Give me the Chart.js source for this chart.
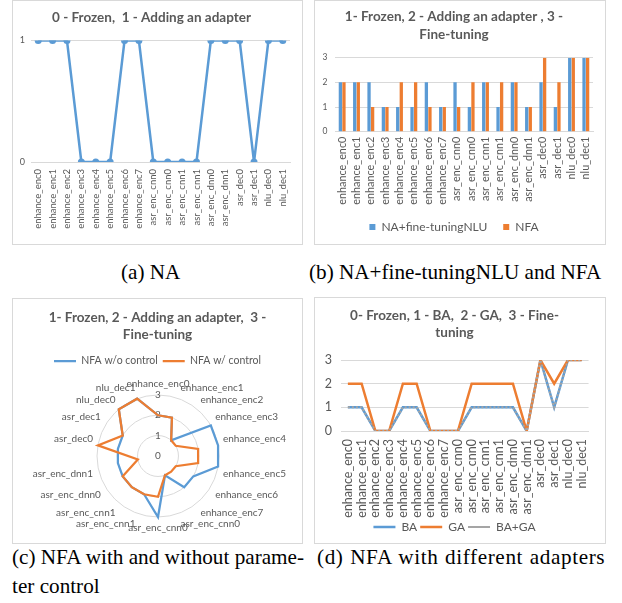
<!DOCTYPE html>
<html>
<head>
<meta charset="utf-8">
<script src="https://cdn.jsdelivr.net/npm/chart.js@4.4.0/dist/chart.umd.min.js"></script>
<style>
  body { margin: 0; background: #fff; width: 622px; height: 603px; position: relative; overflow: hidden; }
  .panel { position: absolute; border: 1px solid #d9d9d9; box-sizing: border-box; background: #fff; }
  .panel canvas { display: block; }
  .cap { position: absolute; font-family: 'Liberation Serif', 'Times New Roman', serif; font-size: 21.2px; line-height: 29px; color: #000; white-space: nowrap; }
  .just { text-align: justify; text-align-last: justify; }
</style>
</head>
<body>
<div class="panel" style="left:12px;top:0;width:291px;height:245px"><canvas id="chartA" width="289" height="243"></canvas></div>
<div class="panel" style="left:314px;top:0;width:292px;height:245px"><canvas id="chartB" width="290" height="243"></canvas></div>
<div class="panel" style="left:12px;top:298px;width:291px;height:246px"><canvas id="chartC" width="289" height="244"></canvas></div>
<div class="panel" style="left:314px;top:297px;width:292px;height:247px"><canvas id="chartD" width="290" height="245"></canvas></div>

<div class="cap" style="left:121px;top:258px">(a) NA</div>
<div class="cap" style="left:309px;top:258px">(b) NA+fine-tuningNLU and NFA</div>
<div class="cap just" style="left:12px;top:543px;width:290px">(c) NFA with and without parame-</div>
<div class="cap" style="left:12px;top:572px">ter control</div>
<div class="cap" style="left:317px;top:543px;letter-spacing:0.6px;word-spacing:0.8px">(d) NFA with different adapters</div>

<script>
// layer names, in the order used by all four panels
const layers = ['enhance_enc0', 'enhance_enc1', 'enhance_enc2', 'enhance_enc3', 'enhance_enc4',
  'enhance_enc5', 'enhance_enc6', 'enhance_enc7', 'asr_enc_cnn0', 'asr_enc_cnn0', 'asr_enc_cnn1',
  'asr_enc_cnn1', 'asr_enc_dnn0', 'asr_enc_dnn1', 'asr_dec0', 'asr_dec1', 'nlu_dec0', 'nlu_dec1'];

// (a) NA: 0 frozen, 1 adapter
const naValues = [1, 1, 1, 0, 0, 0, 1, 1, 0, 0, 0, 0, 1, 1, 1, 0, 1, 1];
const naTicks = [0, 1];

// (b) 1 frozen, 2 adapter, 3 fine-tuning
const naFtNluValues = [2, 2, 2, 1, 1, 1, 2, 1, 2, 1, 2, 1, 2, 1, 2, 1, 3, 3];
const nfaValues = [2, 2, 1, 1, 2, 2, 1, 1, 1, 2, 2, 2, 2, 1, 3, 2, 3, 3];
const stateTicks = [0, 1, 2, 3];

// (c) radar, same coding as (b)
const nfaNoControlValues = [2, 2, 1, 3, 3, 3, 2, 2, 1, 3, 2, 2, 2, 2, 2, 2, 3, 3];
const nfaControlValues = [2, 2, 1, 1, 2, 2, 1, 1, 1, 2, 2, 2, 2, 1, 3, 2, 3, 3];

// (d) 0 frozen, 1 BA, 2 GA, 3 fine-tuning
const baValues = [1, 1, 0, 0, 1, 1, 0, 0, 0, 1, 1, 1, 1, 0, 3, 1, 3, 3];
const gaValues = [2, 2, 0, 0, 2, 2, 0, 0, 0, 2, 2, 2, 2, 0, 3, 2, 3, 3];
const baGaValues = [1, 1, 0, 0, 1, 1, 0, 0, 0, 1, 1, 1, 1, 0, 3, 1, 3, 3];

const BLUE = '#5b9bd5';
const ORANGE = '#ed7d31';
const GREY = '#a5a5a5';
const TEXT = '#595959';
const GRID = '#d9d9d9';

Chart.defaults.font.family = 'Lato, "Open Sans", sans-serif';
Chart.defaults.color = TEXT;
Chart.defaults.animation = false;
Chart.defaults.plugins.tooltip.enabled = false;

function titleOpts(text, lineHeight, top, bottom) {
  return {
    display: true, text: text, color: TEXT,
    font: { size: 13.5, weight: 'bold', lineHeight: lineHeight },
    padding: { top: top, bottom: bottom }
  };
}

const byIndex = (a, b) => a.datasetIndex - b.datasetIndex;

// (a)
new Chart(document.getElementById('chartA'), {
  type: 'line',
  data: {
    labels: layers,
    datasets: [{
      label: 'NA', data: naValues,
      borderColor: BLUE, backgroundColor: BLUE, borderWidth: 2.5,
      pointRadius: 3.5, pointBorderWidth: 0, pointBackgroundColor: BLUE, tension: 0
    }]
  },
  options: {
    responsive: false,
    layout: { padding: { left: 0, right: 12, top: 0, bottom: 0 } },
    plugins: {
      legend: { display: false },
      title: titleOpts('0 - Frozen,  1 - Adding an adapter', 1.3, 8, 14)
    },
    scales: {
      x: {
        offset: true,
        grid: { display: false, drawTicks: false },
        border: { color: GRID },
        ticks: { autoSkip: false, minRotation: 90, maxRotation: 90, padding: 7, font: { size: 9.5 } },
        afterFit: s => { s.height = 82; }
      },
      y: {
        min: naTicks[0], max: naTicks[naTicks.length - 1],
        ticks: { stepSize: 1, padding: 6, font: { size: 9 } },
        grid: { color: GRID, drawTicks: false },
        border: { display: false },
        afterFit: s => { s.width = 18; }
      }
    }
  }
});

// (b)
new Chart(document.getElementById('chartB'), {
  type: 'bar',
  data: {
    labels: layers,
    datasets: [
      { label: 'NA+fine-tuningNLU', data: naFtNluValues, backgroundColor: BLUE },
      { label: 'NFA', data: nfaValues, backgroundColor: ORANGE }
    ]
  },
  options: {
    responsive: false,
    layout: { padding: { left: 0, right: 12, top: 0, bottom: 1 } },
    datasets: { bar: { categoryPercentage: 0.5, barPercentage: 0.92 } },
    plugins: {
      legend: {
        position: 'bottom',
        labels: { boxWidth: 6, boxHeight: 6, padding: 16, color: TEXT, font: { size: 12 } }
      },
      title: titleOpts(['1- Frozen, 2 - Adding an adapter , 3 -', 'Fine-tuning'], 1.333, 7, 13.7)
    },
    scales: {
      x: {
        grid: { display: false, drawTicks: false },
        border: { color: GRID },
        ticks: { autoSkip: false, minRotation: 90, maxRotation: 90, padding: 5, font: { size: 10.8 } },
        afterFit: s => { s.height = 73.3; }
      },
      y: {
        min: stateTicks[0], max: stateTicks[stateTicks.length - 1],
        ticks: { stepSize: 1, padding: 7.5, font: { size: 8.5 } },
        grid: { color: GRID, drawTicks: false },
        border: { display: false },
        afterFit: s => { s.width = 20; }
      }
    }
  }
});

// (c)
new Chart(document.getElementById('chartC'), {
  type: 'radar',
  data: {
    labels: layers,
    datasets: [
      { label: 'NFA w/o control', data: nfaNoControlValues, borderColor: BLUE, backgroundColor: BLUE,
        borderWidth: 2.25, pointRadius: 0, fill: false, order: 2 },
      { label: 'NFA w/ control', data: nfaControlValues, borderColor: ORANGE, backgroundColor: ORANGE,
        borderWidth: 2.25, pointRadius: 0, fill: false, order: 1 }
    ]
  },
  options: {
    responsive: false,
    layout: { padding: 0 },
    plugins: {
      legend: {
        position: 'top',
        labels: { boxWidth: 22, boxHeight: 0, padding: 5, color: TEXT, font: { size: 10.5 }, sort: byIndex }
      },
      title: titleOpts(['1- Frozen, 2 - Adding an adapter,  3 -', 'Fine-tuning'], 1.31, 9.5, 6.9)
    },
    scales: {
      r: {
        min: -0.01, max: stateTicks[stateTicks.length - 1],
        ticks: {
          stepSize: 1, includeBounds: false, showLabelBackdrop: false, backdropPadding: -4,
          color: TEXT, font: { size: 10 }
        },
        grid: { circular: true, color: c => (c.tick && c.tick.value > 0 ? GRID : 'rgba(0,0,0,0)') },
        angleLines: { display: false },
        pointLabels: { color: TEXT, padding: 4, font: { size: 10 } },
        afterSetDimensions: s => { s.xCenter = 145; s.yCenter = 157; s.drawingArea = 61; }
      }
    }
  }
});

// (d)
new Chart(document.getElementById('chartD'), {
  type: 'line',
  data: {
    labels: layers,
    datasets: [
      { label: 'BA', data: baValues, borderColor: BLUE, backgroundColor: BLUE,
        borderWidth: 2.5, pointRadius: 0, tension: 0, order: 3 },
      { label: 'GA', data: gaValues, borderColor: ORANGE, backgroundColor: ORANGE,
        borderWidth: 2.5, pointRadius: 0, tension: 0, order: 2 },
      { label: 'BA+GA', data: baGaValues, borderColor: GREY, backgroundColor: GREY,
        borderWidth: 2, borderDash: [2, 2], pointRadius: 0, tension: 0, order: 1 }
    ]
  },
  options: {
    responsive: false,
    layout: { padding: { left: 0, right: 11, top: 0, bottom: 0 } },
    plugins: {
      legend: {
        position: 'bottom',
        labels: { boxWidth: 22, boxHeight: 0, padding: 3, color: TEXT, font: { size: 12 }, sort: byIndex }
      },
      title: titleOpts(['0- Frozen, 1 - BA,  2 - GA,  3 - Fine-', 'tuning'], 1.26, 9.5, 18.5)
    },
    scales: {
      x: {
        offset: true,
        grid: { display: false, drawTicks: false },
        border: { color: GRID },
        ticks: { autoSkip: false, minRotation: 90, maxRotation: 90, padding: 8, font: { size: 12.5 } },
        afterFit: s => { s.height = 87; }
      },
      y: {
        min: stateTicks[0], max: stateTicks[stateTicks.length - 1],
        ticks: { stepSize: 1, padding: 9, font: { size: 12.5 } },
        grid: { color: GRID, drawTicks: false },
        border: { display: false },
        afterFit: s => { s.width = 26; }
      }
    }
  }
});
</script>
</body>
</html>
